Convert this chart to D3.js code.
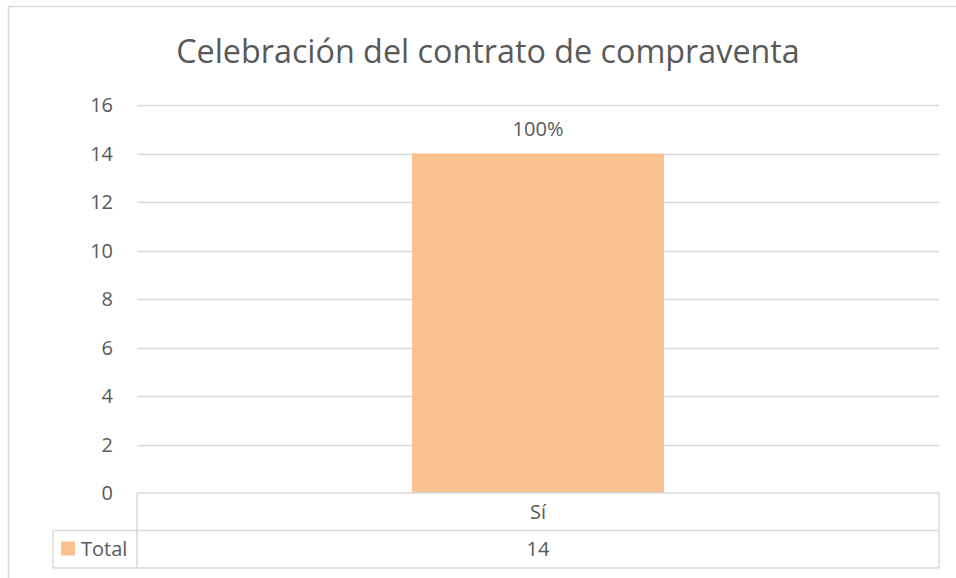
<!DOCTYPE html>
<html>
<head>
<meta charset="utf-8">
<script src="https://cdn.jsdelivr.net/npm/d3@7"></script>
<style>
  body { margin: 0; background: #fff; }
  text { font-family: "Open Sans", sans-serif; fill: #595959; }
</style>
</head>
<body>
<div id="chart"></div>
<script>
var title = "Celebración del contrato de compraventa";
var categories = ["Sí"];
var seriesName = "Total";
var values = [14];
var dataLabels = ["100%"];
var yTicks = [0, 2, 4, 6, 8, 10, 12, 14, 16];

var W = 956, H = 578;
var plot = {left: 137, right: 939, top: 105, bottom: 493};
var rowH = 37.5;

var svg = d3.select('#chart').append('svg')
    .attr('width', W)
    .attr('height', H);

// outer chart border
svg.append('rect')
    .attr('x', 8.5).attr('y', 6.5)
    .attr('width', 960).attr('height', 600)
    .attr('fill', 'none')
    .attr('stroke', '#d9d9d9')
    .attr('stroke-width', 1.5);

svg.append('text')
    .attr('x', 488).attr('y', 63)
    .attr('text-anchor', 'middle')
    .style('font-size', '32.3px')
    .text(title);

var xScale = d3.scaleBand()
    .domain(categories)
    .range([plot.left, plot.right])
    .paddingInner(0.686)
    .paddingOuter(0.343);

var yScale = d3.scaleLinear()
    .domain([0, 16])
    .range([plot.bottom, plot.top]);

// gridlines
svg.append('g').selectAll('line')
    .data(yTicks.filter(function(d) { return d > 0; }))
    .enter().append('line')
    .attr('x1', plot.left).attr('x2', plot.right)
    .attr('y1', function(d) { return Math.round(yScale(d)) + 0.5; })
    .attr('y2', function(d) { return Math.round(yScale(d)) + 0.5; })
    .attr('stroke', '#d9d9d9')
    .attr('stroke-width', 1.5);

// y axis labels
svg.append('g').selectAll('text')
    .data(yTicks)
    .enter().append('text')
    .attr('x', 113)
    .attr('y', function(d) { return yScale(d); })
    .attr('dy', '0.35em')
    .attr('text-anchor', 'end')
    .style('font-size', '20px')
    .text(function(d) { return d; });

// bars
svg.append('g').selectAll('rect')
    .data(values)
    .enter().append('rect')
    .attr('x', function(d, i) { return xScale(categories[i]); })
    .attr('width', xScale.bandwidth())
    .attr('y', function(d) { return yScale(d); })
    .attr('height', function(d) { return yScale(0) - yScale(d); })
    .attr('fill', '#f9c190');

svg.append('g').selectAll('text')
    .data(values)
    .enter().append('text')
    .attr('x', function(d, i) { return xScale(categories[i]) + xScale.bandwidth() / 2; })
    .attr('y', function(d) { return yScale(d) - 18; })
    .attr('text-anchor', 'middle')
    .style('font-size', '20px')
    .text(function(d, i) { return dataLabels[i]; });

// data table
var tbl = svg.append('g')
    .attr('stroke', '#d9d9d9')
    .attr('stroke-width', 1.5)
    .attr('fill', 'none');
var y0 = plot.bottom, y1 = y0 + rowH, y2 = y1 + rowH;
tbl.append('line').attr('x1', plot.left).attr('x2', plot.right).attr('y1', y0).attr('y2', y0);
tbl.append('line').attr('x1', 53).attr('x2', plot.right).attr('y1', y1).attr('y2', y1);
tbl.append('line').attr('x1', 53).attr('x2', plot.right).attr('y1', y2).attr('y2', y2);
tbl.append('line').attr('x1', 53).attr('x2', 53).attr('y1', y1).attr('y2', y2);
tbl.append('line').attr('x1', plot.left).attr('x2', plot.left).attr('y1', y0).attr('y2', y2);
tbl.append('line').attr('x1', plot.right).attr('x2', plot.right).attr('y1', y0).attr('y2', y2);
xScale.domain().slice(1).forEach(function(c) {
    var xs = xScale(c) - xScale.step() * xScale.paddingInner() / 2;
    tbl.append('line').attr('x1', xs).attr('x2', xs).attr('y1', y0).attr('y2', y2);
});

var catStep = (plot.right - plot.left) / categories.length;
svg.append('g').selectAll('text')
    .data(categories)
    .enter().append('text')
    .attr('x', function(d, i) { return plot.left + catStep * (i + 0.5); })
    .attr('y', y0 + rowH / 2)
    .attr('dy', '0.35em')
    .attr('text-anchor', 'middle')
    .style('font-size', '20px')
    .text(function(d) { return d; });

svg.append('g').selectAll('text')
    .data(values)
    .enter().append('text')
    .attr('x', function(d, i) { return plot.left + catStep * (i + 0.5); })
    .attr('y', y1 + rowH / 2)
    .attr('dy', '0.35em')
    .attr('text-anchor', 'middle')
    .style('font-size', '20px')
    .text(function(d) { return d; });

// legend key in table
svg.append('rect')
    .attr('x', 61).attr('y', y1 + 11)
    .attr('width', 14).attr('height', 14)
    .attr('fill', '#f9c190');
svg.append('text')
    .attr('x', 81).attr('y', y1 + rowH / 2)
    .attr('dy', '0.35em')
    .style('font-size', '20px')
    .text(seriesName);
</script>
</body>
</html>
